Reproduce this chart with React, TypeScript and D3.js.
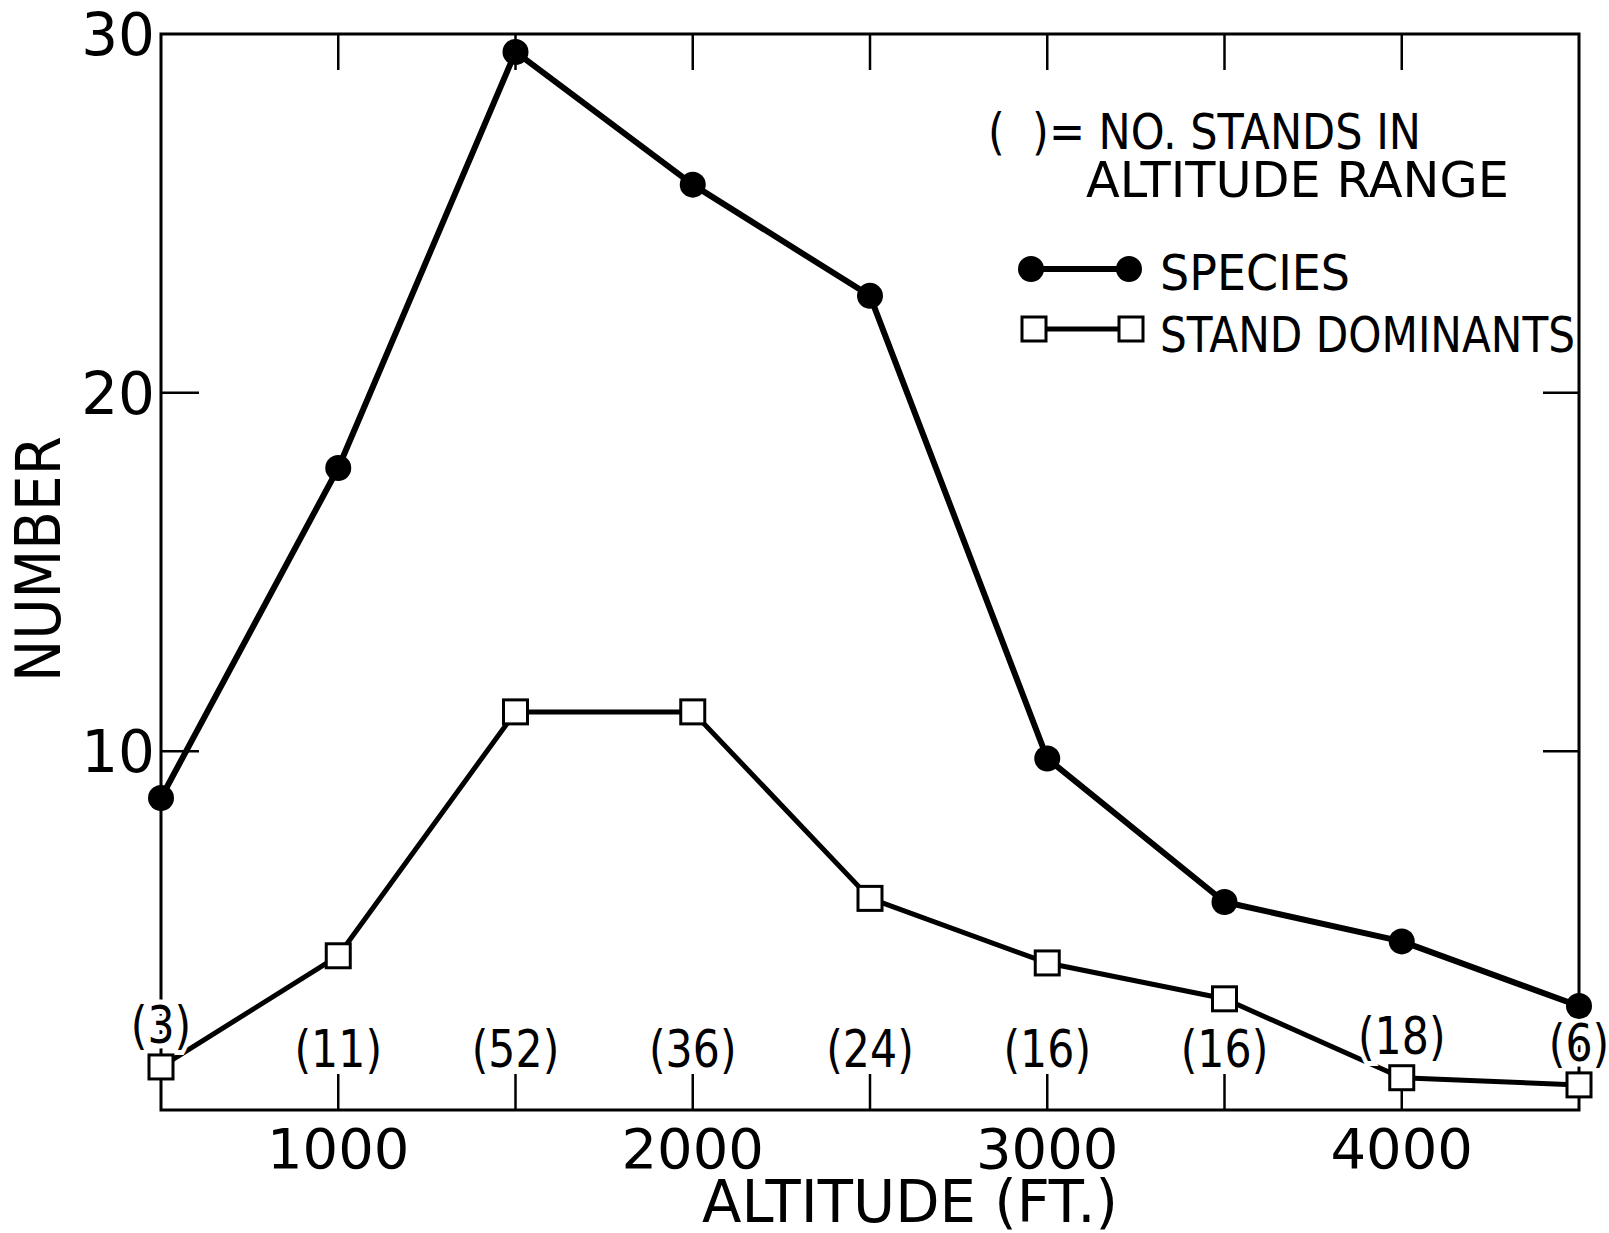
import * as d3 from 'd3';
import * as React from 'react';

const width = 1609;
const height = 1233;
const frame = { left: 161, right: 1579, top: 34, bottom: 1110 };

// altitude classes (ft) and what is plotted at each
const altitudes = [500, 1000, 1500, 2000, 2500, 3000, 3500, 4000, 4500];
const species = [8.7, 17.9, 29.5, 25.8, 22.7, 9.8, 5.8, 4.7, 2.9];
const dominants = [1.2, 4.3, 11.1, 11.1, 5.9, 4.1, 3.1, 0.9, 0.7];
const standCounts = [3, 11, 52, 36, 24, 16, 16, 18, 6];

const xTickValues = [1000, 1500, 2000, 2500, 3000, 3500, 4000];
const xTickLabels = [1000, 2000, 3000, 4000];
const yTickValues = [10, 20];
const yTickLabels = [10, 20, 30];

const font = "'DejaVu Sans', sans-serif";

export default function App() {
  const x = d3.scaleLinear().domain([500, 4500]).range([frame.left, frame.right]);
  const y = d3.scaleLinear().domain([0, 30]).range([frame.bottom, frame.top]);

  const line = d3
    .line<number>()
    .x((d, i) => x(altitudes[i]))
    .y(d => y(d));

  const sq = 24;
  const r = 13;

  return (
    <svg
      width={width}
      height={height}
      viewBox={`0 0 ${width} ${height}`}
      style={{ position: 'absolute', left: 0, top: 0, background: '#fff' }}
      fontFamily={font}
    >
      <rect
        x={frame.left}
        y={frame.top}
        width={frame.right - frame.left}
        height={frame.bottom - frame.top}
        fill="none"
        stroke="#000"
        strokeWidth={3}
      />

      {/* ticks, drawn inward on all four sides */}
      {xTickValues.map(v => (
        <g key={'xt' + v} stroke="#000" strokeWidth={2.5}>
          <line x1={x(v)} x2={x(v)} y1={frame.top} y2={frame.top + 36} />
          <line x1={x(v)} x2={x(v)} y1={frame.bottom} y2={frame.bottom - 36} />
        </g>
      ))}
      {yTickValues.map(v => (
        <g key={'yt' + v} stroke="#000" strokeWidth={2.5}>
          <line x1={frame.left} x2={frame.left + 38} y1={y(v)} y2={y(v)} />
          <line x1={frame.right} x2={frame.right - 36} y1={y(v)} y2={y(v)} />
        </g>
      ))}

      {xTickLabels.map(v => (
        <text key={'xl' + v} x={x(v)} y={frame.bottom + 58} fontSize={56} textAnchor="middle">
          {v}
        </text>
      ))}
      {yTickLabels.map(v => (
        <text key={'yl' + v} x={frame.left - 6} y={y(v) + 21} fontSize={58} textAnchor="end">
          {v}
        </text>
      ))}

      <text x={910} y={1222} fontSize={58} textAnchor="middle" textLength={416} lengthAdjust="spacingAndGlyphs">
        ALTITUDE (FT.)
      </text>
      <text
        transform={`translate(60,559) rotate(-90)`}
        fontSize={63}
        textAnchor="middle"
        textLength={246}
        lengthAdjust="spacingAndGlyphs"
      >
        NUMBER
      </text>

      {/* series */}
      <path d={line(species) || ''} fill="none" stroke="#000" strokeWidth={6} strokeLinejoin="round" />
      <path d={line(dominants) || ''} fill="none" stroke="#000" strokeWidth={5} strokeLinejoin="round" />

      {/* stand counts: on a row above the axis, lifted over a square that sits low */}
      {standCounts.map((n, i) => {
        const row = frame.bottom - 43;
        const top = y(dominants[i]) - sq / 2;
        const base = top + sq < row - 40 ? row : top - 12;
        return (
          <text
            key={'sc' + i}
            transform={`translate(${x(altitudes[i])},${base}) scale(0.82,1)`}
            fontSize={52}
            textAnchor="middle"
            stroke="#fff"
            strokeWidth={10}
            paintOrder="stroke"
            fill="#000"
          >
            ({n})
          </text>
        );
      })}

      {species.map((v, i) => (
        <circle key={'sp' + i} cx={x(altitudes[i])} cy={y(v)} r={r} fill="#000" />
      ))}
      {dominants.map((v, i) => (
        <rect
          key={'dm' + i}
          x={x(altitudes[i]) - sq / 2}
          y={y(v) - sq / 2}
          width={sq}
          height={sq}
          fill="#fff"
          stroke="#000"
          strokeWidth={3}
        />
      ))}

      {/* legend */}
      <g fontSize={50}>
        <text x={988} y={149} style={{ whiteSpace: 'pre' }} textLength={433} lengthAdjust="spacingAndGlyphs">
          {'(  )= NO. STANDS IN'}
        </text>
        <text x={1086} y={197} textLength={423} lengthAdjust="spacingAndGlyphs">
          ALTITUDE RANGE
        </text>

        <line x1={1031} x2={1129} y1={269} y2={269} stroke="#000" strokeWidth={6} />
        <circle cx={1031} cy={269} r={r} fill="#000" />
        <circle cx={1129} cy={269} r={r} fill="#000" />
        <text x={1160} y={290} textLength={190} lengthAdjust="spacingAndGlyphs">
          SPECIES
        </text>

        <line x1={1034} x2={1131} y1={329} y2={329} stroke="#000" strokeWidth={5} />
        <rect x={1034 - sq / 2} y={329 - sq / 2} width={sq} height={sq} fill="#fff" stroke="#000" strokeWidth={3} />
        <rect x={1131 - sq / 2} y={329 - sq / 2} width={sq} height={sq} fill="#fff" stroke="#000" strokeWidth={3} />
        <text x={1160} y={352} textLength={415} lengthAdjust="spacingAndGlyphs">
          STAND DOMINANTS
        </text>
      </g>
    </svg>
  );
}
